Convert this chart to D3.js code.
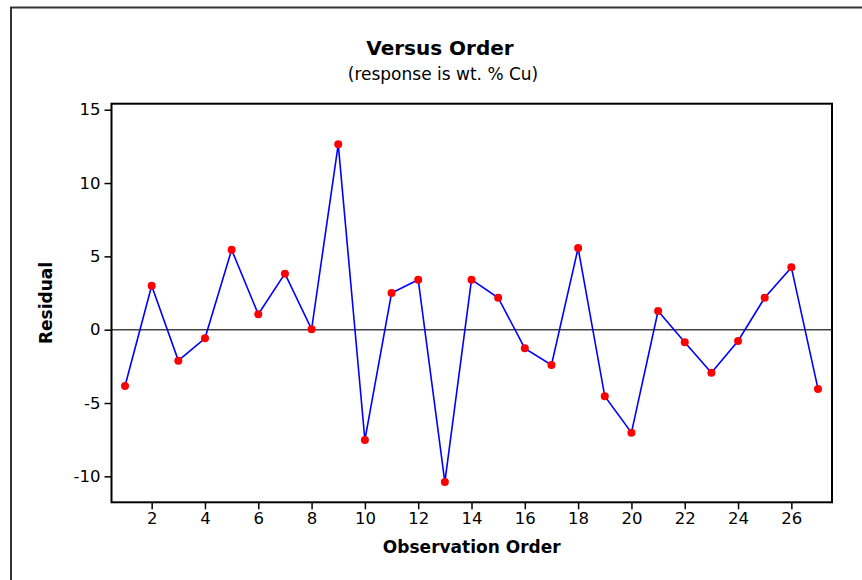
<!DOCTYPE html>
<html><head><meta charset="utf-8">
<script src="https://cdn.jsdelivr.net/npm/d3@7"></script>
<style>body{margin:0;background:#fff}svg{display:block}</style>
</head><body>
<script>
const observationOrder = [1,2,3,4,5,6,7,8,9,10,11,12,13,14,15,16,17,18,19,20,21,22,23,24,25,26,27];
const residuals = [-3.84,3.0,-2.11,-0.59,5.45,1.05,3.82,0.03,12.64,-7.52,2.50,3.41,-10.39,3.41,2.18,-1.27,-2.41,5.57,-4.54,-7.02,1.27,-0.86,-2.93,-0.77,2.18,4.25,-4.04];
const yTicks = [-10,-5,0,5,10,15];
const xTicks = [2,4,6,8,10,12,14,16,18,20,22,24,26];
const titleText = "Versus Order";
const subtitleText = "(response is wt. % Cu)";
const xLabel = "Observation Order";
const yLabel = "Residual";

const W = 862, H = 580;
const m = {left:111.5, top:103.7, right:832, bottom:502.3};
const font = "Tahoma, 'DejaVu Sans', Verdana, sans-serif";

const svg = d3.select("body").append("svg").attr("width", W).attr("height", H);
svg.append("rect").attr("x",0).attr("y",0).attr("width",W).attr("height",H).attr("fill","#fff");
// outer frame
svg.append("rect").attr("x",11).attr("y",7.5).attr("width",W+20).attr("height",H+20)
  .attr("fill","none").attr("stroke","#333").attr("stroke-width",2);

const x = d3.scaleLinear().domain([0.493, 27.525]).range([m.left, m.right]);
const y = d3.scaleLinear().domain([-11.77, 15.41]).range([m.bottom, m.top]);

// zero reference line
svg.append("line").attr("x1",m.left).attr("x2",m.right).attr("y1",y(0)).attr("y2",y(0))
  .attr("stroke","#444").attr("stroke-width",1.5);

const fmt = d => String(d);
const yAxis = d3.axisLeft(y).tickValues(yTicks).tickSize(7).tickPadding(4).tickFormat(fmt);
const xAxis = d3.axisBottom(x).tickValues(xTicks).tickSize(7).tickPadding(3).tickFormat(fmt);

const gy = svg.append("g").attr("transform",`translate(${m.left},0)`).call(yAxis);
const gx = svg.append("g").attr("transform",`translate(0,${m.bottom})`).call(xAxis);
[gy,gx].forEach(g=>{
  g.select(".domain").remove();
  g.selectAll(".tick line").attr("stroke","#000").attr("stroke-width",1.5);
  g.selectAll(".tick text").attr("fill","#000").style("font-family",font).style("font-size","16.5px");
});

// plot frame
svg.append("rect").attr("x",m.left).attr("y",m.top).attr("width",m.right-m.left).attr("height",m.bottom-m.top)
  .attr("fill","none").attr("stroke","#000").attr("stroke-width",2);

const data = observationOrder.map((o,i)=>({o, r:residuals[i]}));
svg.append("path").datum(data)
  .attr("d", d3.line().x(d=>x(d.o)).y(d=>y(d.r)))
  .attr("fill","none").attr("stroke","#0000ff").attr("stroke-width",1.6);
svg.selectAll("circle.pt").data(data).join("circle").attr("class","pt")
  .attr("cx",d=>x(d.o)).attr("cy",d=>y(d.r)).attr("r",4).attr("fill","#ff0000");

svg.append("text").attr("x",440).attr("y",55).attr("text-anchor","middle")
  .style("font-family",font).style("font-weight","bold").style("font-size","20px").text(titleText);
svg.append("text").attr("x",443).attr("y",80).attr("text-anchor","middle")
  .style("font-family",font).style("font-size","17px").text(subtitleText);
svg.append("text").attr("x",(m.left+m.right)/2).attr("y",553).attr("text-anchor","middle")
  .style("font-family",font).style("font-weight","bold").style("font-size","17px").text(xLabel);
svg.append("text").attr("transform",`translate(52,${(m.top+m.bottom)/2}) rotate(-90)`).attr("text-anchor","middle")
  .style("font-family",font).style("font-weight","bold").style("font-size","17px").text(yLabel);
</script>
</body></html>
